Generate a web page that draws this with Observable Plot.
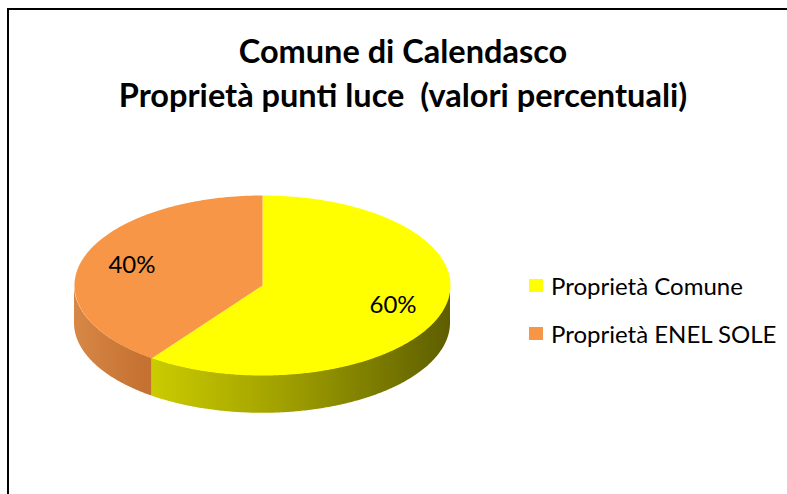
<!DOCTYPE html>
<html>
<head>
<meta charset="utf-8">
<script src="https://cdn.jsdelivr.net/npm/d3@7"></script>
<script src="https://cdn.jsdelivr.net/npm/@observablehq/plot@0.6"></script>
<style>
  body { margin: 0; background: #fff; }
  #wrap { position: relative; width: 787px; height: 494px; overflow: hidden; background: #fff; font-family: Lato, sans-serif; }
  #border { position: absolute; left: 7px; top: 8px; width: 800px; height: 500px; border-left: 2px solid #000; border-top: 2px solid #000; }
  #chart { position: absolute; left: 0; top: 0; }
  #legend { position: absolute; left: 529px; top: 271px; }
  .item { display: flex; align-items: center; height: 28px; margin-bottom: 20px; font-size: 24px; color: #000; white-space: nowrap; }
  .sw { width: 14px; height: 13px; margin-right: 8px; flex: none; }
</style>
</head>
<body>
<div id="wrap">
  <div id="border"></div>
  <div id="chart"></div>
  <div id="legend"></div>
</div>
<script>
const categories = ["Proprietà Comune", "Proprietà ENEL SOLE"];
const values = [60, 40];
const labels = ["60%", "40%"];
const colors = ["#FFFF00", "#F79646"];
const titleLines = ["Comune di Calendasco", "Proprietà punti luce \u00a0(valori percentuali)"];

const depth = 0.42; // thickness of the pie, in y units
const labelRadius = 0.73;

const arcs = d3.pie().sort(null).value(d => d)(values);

function sample(a0, a1) {
  const n = Math.max(2, Math.ceil((a1 - a0) / 0.01));
  return d3.range(n + 1).map(i => a0 + (a1 - a0) * i / n);
}

// top faces
const topPts = [];
arcs.forEach((a, i) => {
  topPts.push({key: categories[i], x: 0, y: 0});
  for (const t of sample(a.startAngle, a.endAngle)) topPts.push({key: categories[i], x: Math.sin(t), y: Math.cos(t)});
  topPts.push({key: categories[i], x: 0, y: 0});
});

// visible side walls (front half)
const sides = arcs.map((a, i) => {
  const s = Math.max(a.startAngle, Math.PI / 2), e = Math.min(a.endAngle, 3 * Math.PI / 2);
  if (e <= s) return [];
  return sample(s, e).map(t => ({x: Math.sin(t), top: Math.cos(t), bot: Math.cos(t) - depth}));
});

const labelData = arcs.map((a, i) => {
  const m = (a.startAngle + a.endAngle) / 2;
  return {x: labelRadius * Math.sin(m), y: labelRadius * Math.cos(m), text: labels[i]};
});

const defs = () => {
  const d = d3.create("svg:defs");
  const g0 = d.append("linearGradient").attr("id", "side0").attr("gradientUnits", "userSpaceOnUse")
    .attr("x1", 140).attr("x2", 449).attr("y1", 0).attr("y2", 0);
  g0.append("stop").attr("offset", 0).attr("stop-color", "#CFCF00");
  g0.append("stop").attr("offset", 0.5).attr("stop-color", "#9C9C00");
  g0.append("stop").attr("offset", 1).attr("stop-color", "#5E5E00");
  const g1 = d.append("linearGradient").attr("id", "side1").attr("gradientUnits", "userSpaceOnUse")
    .attr("x1", 74).attr("x2", 145).attr("y1", 0).attr("y2", 0);
  g1.append("stop").attr("offset", 0).attr("stop-color", "#D78746");
  g1.append("stop").attr("offset", 1).attr("stop-color", "#C47132");
  return d.node();
};

const colorScale = {domain: categories, range: colors};

const chart = Plot.plot({
  width: 787,
  height: 494,
  margin: 0,
  x: {domain: [-1, 1], range: [74, 450], axis: null},
  y: {domain: [-1, 1], range: [375, 195], axis: null},
  color: colorScale,
  style: {fontFamily: "Lato, sans-serif", background: "transparent", overflow: "visible"},
  marks: [
    defs,
    ...sides.map((s, i) => Plot.area(s, {x1: "x", y1: "top", y2: "bot", fill: `url(#side${i})`, stroke: "none"})),
    Plot.line(topPts, {x: "x", y: "y", z: "key", fill: "key", stroke: "none", curve: "linear"}),
    Plot.text(labelData, {x: "x", y: "y", text: "text", fontSize: 24, fill: "#000"}),
    Plot.text([titleLines.join("\n")], {frameAnchor: "top", dx: 9, dy: 31, fontSize: 32.5, fontWeight: "bold", lineHeight: 1.36, fill: "#000"})
  ]
});
document.getElementById("chart").append(chart);

// legend built from the same color scale
const scale = chart.scale("color");
const leg = d3.select("#legend");
categories.forEach(c => {
  const it = leg.append("div").attr("class", "item");
  it.append("div").attr("class", "sw").style("background", scale.apply(c));
  it.append("span").text(c);
});
</script>
</body>
</html>
